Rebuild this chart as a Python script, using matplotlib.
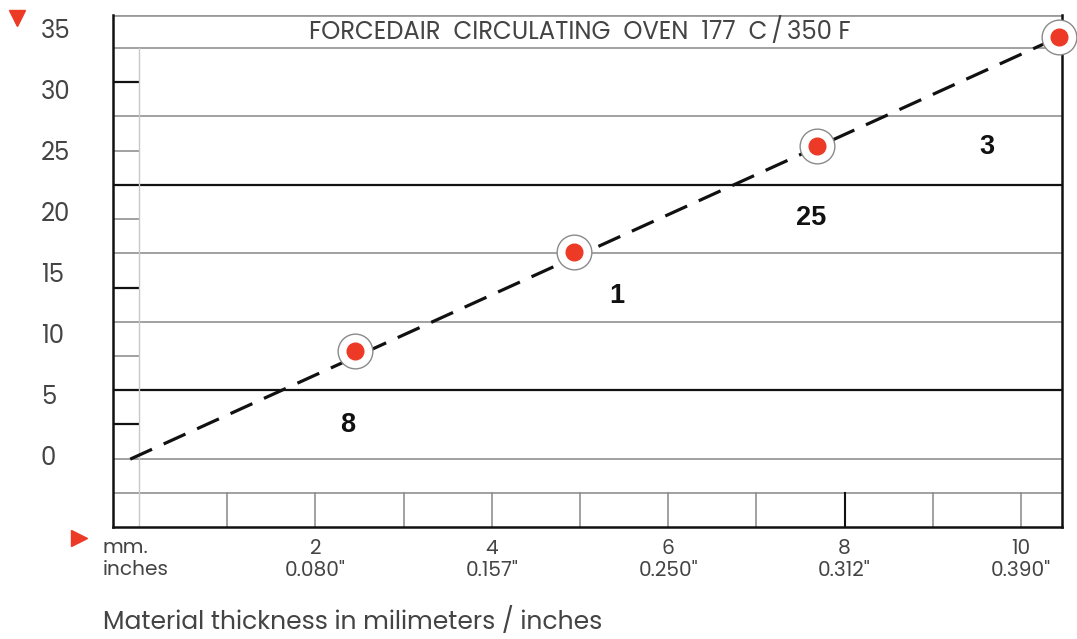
import numpy as np
import matplotlib.pyplot as plt

# ----- DATA -----
thickness_mm = [2.45, 4.93, 7.69, 10.43]
cure_values = [8.6, 16.7, 25.4, 34.3]
trend_mm = [-0.10, 10.43]
trend_values = [-0.3, 34.3]
zone_labels = ["8", "1", "25", "3"]
zone_mm = [2.37, 5.42, 7.62, 9.61]
zone_values = [2.5, 13.1, 19.5, 25.3]
y_ticks = [0, 5, 10, 15, 20, 25, 30, 35]
x_ticks_mm = [2, 4, 6, 8, 10]
x_ticks_inch = ['0.080"', '0.157"', '0.250"', '0.312"', '0.390"']
ruler_mm = [1, 2, 3, 4, 5, 6, 7, 8, 9, 10]
title = "FORCEDAIR  CIRCULATING  OVEN  177  C\u2009/\u2009350 F"
xlabel = "Material thickness in milimeters / inches"

TEXT = "#444444"
GRAY = "#9a9a9a"
BLACK = "#111111"
RED = "#ec3a26"
FONT = ["Poppins", "Open Sans", "DejaVu Sans"]

plt.rcParams["font.family"] = FONT

W, H = 1077, 639
fig = plt.figure(figsize=(W / 100, H / 100), dpi=100)
# plot box: px 113..1062 horizontally, 15..527 vertically
ax = fig.add_axes([113 / W, 1 - 527 / H, (1062 - 113) / W, (527 - 15) / H])
ax.set_xlim(-0.295, 10.465)
ax.set_ylim(-5.86, 36.11)

# horizontal rules of the chart (15 rows from the header down to the bottom)
header_y = 33.4
rows = np.linspace(header_y, -5.86, 15)
row_style = ["full_g", "short_b", "full_g", "short_g", "full_b", "short_g", "full_g",
             "short_b", "full_g", "short_g", "full_b", "short_b", "full_g", "full_g", None]
for yy, st in zip(rows, row_style):
    if st is None:
        continue
    col = BLACK if st.endswith("b") else GRAY
    lw = 1.6 if st.endswith("b") else 1.3
    x1 = 0 if st.startswith("short") else 10.465
    ax.plot([-0.295, x1], [yy, yy], color=col, lw=lw, zorder=1, solid_capstyle="butt")

# thin vertical at zero and ruler ticks at the bottom strip
ax.plot([0, 0], [-5.86, header_y], color="#c8c8c8", lw=1.0, zorder=1)
for m in ruler_mm:
    ax.plot([m, m], [rows[-2], -5.86], color=BLACK if m == 8 else "#888888",
            lw=1.5 if m == 8 else 1.1, zorder=1)

# header line at the very top
ax.axhline(36.11, color=GRAY, lw=2.0, zorder=1)

# frame
for s in ["left", "right", "bottom"]:
    ax.spines[s].set_color(BLACK)
    ax.spines[s].set_linewidth(1.8)
ax.spines["top"].set_visible(False)

# trend line and points
line, = ax.plot(trend_mm, trend_values, color=BLACK, lw=2.3, zorder=3)
line.set_dashes((7.5, 4.0))
ax.plot(thickness_mm, cure_values, "o", ms=25, mfc="white", mec="#8a8a8a", mew=1.0,
        zorder=4, clip_on=False)
ax.plot(thickness_mm, cure_values, "o", ms=12, mfc=RED, mec=RED, zorder=5, clip_on=False)

for lab, xx, yy in zip(zone_labels, zone_mm, zone_values):
    ax.text(xx, yy, lab, ha="center", va="center", fontsize=19.5, fontweight="bold",
            family=["Liberation Sans Narrow", "Liberation Sans", "DejaVu Sans"],
            color=BLACK, zorder=5)

ax.text(5.0, (36.11 + header_y) / 2, title, ha="center", va="center", fontsize=17.5,
        color=TEXT, zorder=5)

# ticks
ax.set_yticks(y_ticks, [str(v) for v in y_ticks])
ax.tick_params(axis="y", length=0, pad=52, labelsize=17.5, labelcolor=TEXT)
for t in ax.get_yticklabels():
    t.set_horizontalalignment("left")
ax.set_xticks(x_ticks_mm, [f"{m}\n{i}" for m, i in zip(x_ticks_mm, x_ticks_inch)])
ax.tick_params(axis="x", length=0, pad=9, labelsize=14.5, labelcolor=TEXT)
for t in ax.get_xticklabels():
    t.set_linespacing(1.12)

fig.text(103 / W, 1 - 538 / H, "mm.\ninches", ha="left", va="top", fontsize=14.5,
         color=TEXT, linespacing=1.12)
fig.text(103 / W, 1 - 622 / H, xlabel, ha="left", va="center", fontsize=18, color=TEXT)

# red arrows
fig.add_artist(plt.Line2D([17 / W], [1 - 18 / H], marker="v", ms=11, color=RED, lw=0))
fig.add_artist(plt.Line2D([79 / W], [1 - 538 / H], marker=">", ms=11, color=RED, lw=0))

fig.savefig("out.png", dpi=100)
